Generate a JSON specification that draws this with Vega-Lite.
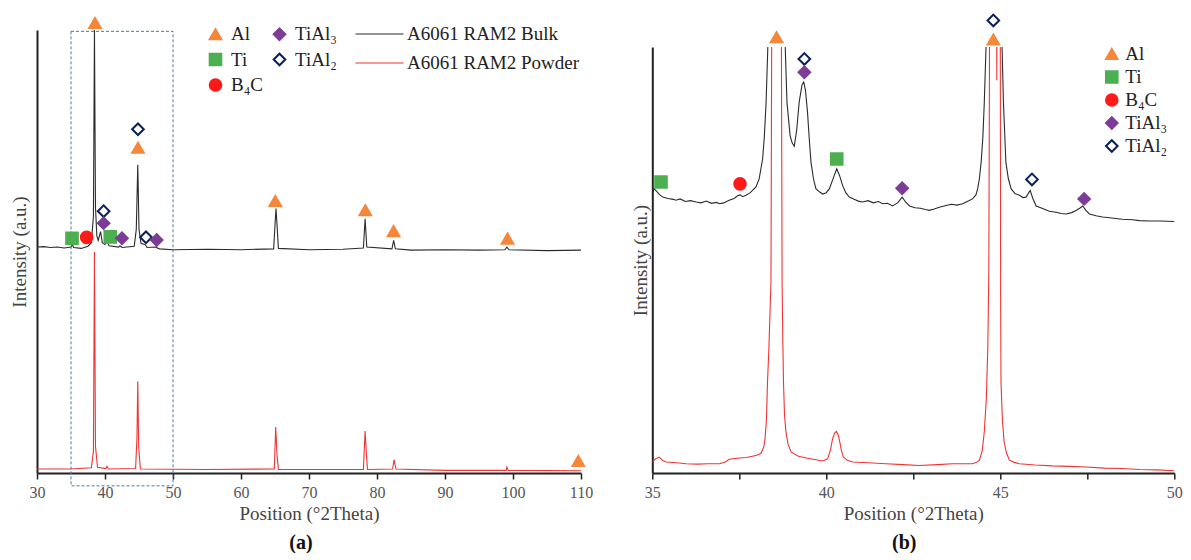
{
  "$schema": "https://vega.github.io/schema/vega-lite/v6.json",
  "padding": {"top": 10, "left": 10, "right": 0, "bottom": 0},
  "background": "white",
  "spacing": 71.3,
  "bounds": "flush",
  "datasets": {
    "linesA": [
      {"x": 30, "y": 51.0, "s": "A6061 RAM2 Bulk"}, {"x": 31, "y": 51.1, "s": "A6061 RAM2 Bulk"}, {"x": 32, "y": 50.9, "s": "A6061 RAM2 Bulk"}, {"x": 33, "y": 51.0, "s": "A6061 RAM2 Bulk"}, {"x": 34, "y": 50.8, "s": "A6061 RAM2 Bulk"}, {"x": 35, "y": 51.0, "s": "A6061 RAM2 Bulk"}, {"x": 35.2, "y": 51.6, "s": "A6061 RAM2 Bulk"}, {"x": 35.4, "y": 50.9, "s": "A6061 RAM2 Bulk"}, {"x": 36.5, "y": 50.7, "s": "A6061 RAM2 Bulk"}, {"x": 37.5, "y": 51.2, "s": "A6061 RAM2 Bulk"}, {"x": 38.0, "y": 52.0, "s": "A6061 RAM2 Bulk"}, {"x": 38.3, "y": 58, "s": "A6061 RAM2 Bulk"}, {"x": 38.45, "y": 100, "s": "A6061 RAM2 Bulk"}, {"x": 38.6, "y": 60, "s": "A6061 RAM2 Bulk"}, {"x": 38.8, "y": 53.5, "s": "A6061 RAM2 Bulk"}, {"x": 39.0, "y": 52.5, "s": "A6061 RAM2 Bulk"}, {"x": 39.35, "y": 54.5, "s": "A6061 RAM2 Bulk"}, {"x": 39.6, "y": 52.0, "s": "A6061 RAM2 Bulk"}, {"x": 40.0, "y": 51.6, "s": "A6061 RAM2 Bulk"}, {"x": 40.3, "y": 52.3, "s": "A6061 RAM2 Bulk"}, {"x": 40.6, "y": 51.3, "s": "A6061 RAM2 Bulk"}, {"x": 42.0, "y": 51.0, "s": "A6061 RAM2 Bulk"}, {"x": 42.2, "y": 51.3, "s": "A6061 RAM2 Bulk"}, {"x": 42.5, "y": 50.9, "s": "A6061 RAM2 Bulk"}, {"x": 44.3, "y": 51.2, "s": "A6061 RAM2 Bulk"}, {"x": 44.6, "y": 55, "s": "A6061 RAM2 Bulk"}, {"x": 44.82, "y": 69.6, "s": "A6061 RAM2 Bulk"}, {"x": 45.0, "y": 55, "s": "A6061 RAM2 Bulk"}, {"x": 45.3, "y": 51.8, "s": "A6061 RAM2 Bulk"}, {"x": 45.9, "y": 51.6, "s": "A6061 RAM2 Bulk"}, {"x": 46.2, "y": 50.9, "s": "A6061 RAM2 Bulk"}, {"x": 47.4, "y": 51.0, "s": "A6061 RAM2 Bulk"}, {"x": 48, "y": 50.6, "s": "A6061 RAM2 Bulk"}, {"x": 50, "y": 50.4, "s": "A6061 RAM2 Bulk"}, {"x": 55, "y": 50.5, "s": "A6061 RAM2 Bulk"}, {"x": 60, "y": 50.4, "s": "A6061 RAM2 Bulk"}, {"x": 64.8, "y": 50.6, "s": "A6061 RAM2 Bulk"}, {"x": 65.0, "y": 56, "s": "A6061 RAM2 Bulk"}, {"x": 65.15, "y": 59.7, "s": "A6061 RAM2 Bulk"}, {"x": 65.3, "y": 56, "s": "A6061 RAM2 Bulk"}, {"x": 65.5, "y": 50.7, "s": "A6061 RAM2 Bulk"}, {"x": 70, "y": 50.4, "s": "A6061 RAM2 Bulk"}, {"x": 75, "y": 50.5, "s": "A6061 RAM2 Bulk"}, {"x": 78.0, "y": 50.8, "s": "A6061 RAM2 Bulk"}, {"x": 78.25, "y": 57.4, "s": "A6061 RAM2 Bulk"}, {"x": 78.5, "y": 51.0, "s": "A6061 RAM2 Bulk"}, {"x": 82.2, "y": 50.6, "s": "A6061 RAM2 Bulk"}, {"x": 82.45, "y": 52.5, "s": "A6061 RAM2 Bulk"}, {"x": 82.7, "y": 50.6, "s": "A6061 RAM2 Bulk"}, {"x": 85, "y": 50.3, "s": "A6061 RAM2 Bulk"}, {"x": 90, "y": 50.4, "s": "A6061 RAM2 Bulk"}, {"x": 95, "y": 50.3, "s": "A6061 RAM2 Bulk"}, {"x": 98.8, "y": 50.4, "s": "A6061 RAM2 Bulk"}, {"x": 99.1, "y": 51.0, "s": "A6061 RAM2 Bulk"}, {"x": 99.4, "y": 50.4, "s": "A6061 RAM2 Bulk"}, {"x": 105, "y": 50.2, "s": "A6061 RAM2 Bulk"}, {"x": 110, "y": 50.3, "s": "A6061 RAM2 Bulk"},
      {"x": 30, "y": 0.9, "s": "A6061 RAM2 Powder"}, {"x": 35, "y": 0.9, "s": "A6061 RAM2 Powder"}, {"x": 38.0, "y": 1.2, "s": "A6061 RAM2 Powder"}, {"x": 38.3, "y": 5, "s": "A6061 RAM2 Powder"}, {"x": 38.45, "y": 49.9, "s": "A6061 RAM2 Powder"}, {"x": 38.6, "y": 6, "s": "A6061 RAM2 Powder"}, {"x": 38.9, "y": 1.3, "s": "A6061 RAM2 Powder"}, {"x": 40.1, "y": 1.0, "s": "A6061 RAM2 Powder"}, {"x": 40.3, "y": 1.5, "s": "A6061 RAM2 Powder"}, {"x": 40.5, "y": 0.9, "s": "A6061 RAM2 Powder"}, {"x": 44.5, "y": 1.0, "s": "A6061 RAM2 Powder"}, {"x": 44.7, "y": 8, "s": "A6061 RAM2 Powder"}, {"x": 44.82, "y": 20.7, "s": "A6061 RAM2 Powder"}, {"x": 44.95, "y": 6, "s": "A6061 RAM2 Powder"}, {"x": 45.2, "y": 0.9, "s": "A6061 RAM2 Powder"}, {"x": 55, "y": 0.8, "s": "A6061 RAM2 Powder"}, {"x": 64.9, "y": 0.9, "s": "A6061 RAM2 Powder"}, {"x": 65.1, "y": 10.4, "s": "A6061 RAM2 Powder"}, {"x": 65.3, "y": 4, "s": "A6061 RAM2 Powder"}, {"x": 65.5, "y": 0.8, "s": "A6061 RAM2 Powder"}, {"x": 78.0, "y": 0.8, "s": "A6061 RAM2 Powder"}, {"x": 78.25, "y": 9.5, "s": "A6061 RAM2 Powder"}, {"x": 78.45, "y": 4, "s": "A6061 RAM2 Powder"}, {"x": 78.6, "y": 0.8, "s": "A6061 RAM2 Powder"}, {"x": 82.3, "y": 0.9, "s": "A6061 RAM2 Powder"}, {"x": 82.5, "y": 3.0, "s": "A6061 RAM2 Powder"}, {"x": 82.8, "y": 0.9, "s": "A6061 RAM2 Powder"}, {"x": 90, "y": 0.6, "s": "A6061 RAM2 Powder"}, {"x": 99.0, "y": 0.6, "s": "A6061 RAM2 Powder"}, {"x": 99.1, "y": 1.35, "s": "A6061 RAM2 Powder"}, {"x": 99.3, "y": 0.6, "s": "A6061 RAM2 Powder"}, {"x": 110, "y": 0.5, "s": "A6061 RAM2 Powder"}
    ],
    "peaksA": [
      {"x": 38.53, "y": 101.6, "phase": "Al"}, {"x": 44.85, "y": 77.6, "phase": "TiAl₂"}, {"x": 44.85, "y": 73.4, "phase": "Al"}, {"x": 65.04, "y": 61.4, "phase": "Al"}, {"x": 78.28, "y": 59.3, "phase": "Al"}, {"x": 82.44, "y": 54.6, "phase": "Al"}, {"x": 99.2, "y": 52.9, "phase": "Al"}, {"x": 35.15, "y": 53.0, "phase": "Ti"}, {"x": 37.3, "y": 53.2, "phase": "B₄C"}, {"x": 39.8, "y": 59.1, "phase": "TiAl₂"}, {"x": 39.8, "y": 56.4, "phase": "TiAl₃"}, {"x": 40.78, "y": 53.3, "phase": "Ti"}, {"x": 42.5, "y": 53.0, "phase": "TiAl₃"}, {"x": 46.03, "y": 53.2, "phase": "TiAl₂"}, {"x": 47.6, "y": 52.6, "phase": "TiAl₃"}, {"x": 109.6, "y": 2.7, "phase": "Al"}
    ],
    "linesB": [
      {"x": 35.0, "y": 63.0, "s": "Bulk"}, {"x": 35.05, "y": 64.2, "s": "Bulk"}, {"x": 35.1, "y": 63.8, "s": "Bulk"}, {"x": 35.2, "y": 62.9, "s": "Bulk"}, {"x": 35.3, "y": 62.3, "s": "Bulk"}, {"x": 35.45, "y": 62.0, "s": "Bulk"}, {"x": 35.6, "y": 61.8, "s": "Bulk"}, {"x": 35.68, "y": 61.6, "s": "Bulk"}, {"x": 35.8, "y": 61.9, "s": "Bulk"}, {"x": 35.95, "y": 61.3, "s": "Bulk"}, {"x": 36.1, "y": 61.5, "s": "Bulk"}, {"x": 36.26, "y": 61.2, "s": "Bulk"}, {"x": 36.4, "y": 61.0, "s": "Bulk"}, {"x": 36.55, "y": 61.4, "s": "Bulk"}, {"x": 36.7, "y": 60.9, "s": "Bulk"}, {"x": 36.85, "y": 61.1, "s": "Bulk"}, {"x": 36.93, "y": 60.8, "s": "Bulk"}, {"x": 37.05, "y": 61.0, "s": "Bulk"}, {"x": 37.21, "y": 61.6, "s": "Bulk"}, {"x": 37.35, "y": 62.0, "s": "Bulk"}, {"x": 37.45, "y": 62.6, "s": "Bulk"}, {"x": 37.52, "y": 62.8, "s": "Bulk"}, {"x": 37.6, "y": 62.4, "s": "Bulk"}, {"x": 37.69, "y": 62.7, "s": "Bulk"}, {"x": 37.8, "y": 63.2, "s": "Bulk"}, {"x": 37.88, "y": 63.8, "s": "Bulk"}, {"x": 37.98, "y": 64.6, "s": "Bulk"}, {"x": 38.07, "y": 66.4, "s": "Bulk"}, {"x": 38.17, "y": 70.9, "s": "Bulk"}, {"x": 38.22, "y": 76, "s": "Bulk"}, {"x": 38.27, "y": 83.7, "s": "Bulk"}, {"x": 38.32, "y": 96.2, "s": "Bulk"}, {"x": 38.55, "y": 400, "s": "Bulk"}, {"x": 38.82, "y": 96.2, "s": "Bulk"}, {"x": 38.87, "y": 83.7, "s": "Bulk"}, {"x": 38.96, "y": 76.2, "s": "Bulk"}, {"x": 39.02, "y": 74.5, "s": "Bulk"}, {"x": 39.08, "y": 73.8, "s": "Bulk"}, {"x": 39.15, "y": 77.5, "s": "Bulk"}, {"x": 39.22, "y": 83.7, "s": "Bulk"}, {"x": 39.3, "y": 87.6, "s": "Bulk"}, {"x": 39.35, "y": 88.3, "s": "Bulk"}, {"x": 39.4, "y": 86.5, "s": "Bulk"}, {"x": 39.46, "y": 81.5, "s": "Bulk"}, {"x": 39.51, "y": 75.5, "s": "Bulk"}, {"x": 39.56, "y": 70.2, "s": "Bulk"}, {"x": 39.63, "y": 66.5, "s": "Bulk"}, {"x": 39.7, "y": 64.2, "s": "Bulk"}, {"x": 39.8, "y": 63.5, "s": "Bulk"}, {"x": 39.9, "y": 63.0, "s": "Bulk"}, {"x": 40.0, "y": 63.3, "s": "Bulk"}, {"x": 40.09, "y": 64.2, "s": "Bulk"}, {"x": 40.2, "y": 66.6, "s": "Bulk"}, {"x": 40.3, "y": 68.7, "s": "Bulk"}, {"x": 40.38, "y": 67.2, "s": "Bulk"}, {"x": 40.47, "y": 64.9, "s": "Bulk"}, {"x": 40.56, "y": 63.3, "s": "Bulk"}, {"x": 40.66, "y": 62.3, "s": "Bulk"}, {"x": 40.8, "y": 61.8, "s": "Bulk"}, {"x": 40.92, "y": 61.4, "s": "Bulk"}, {"x": 41.04, "y": 61.2, "s": "Bulk"}, {"x": 41.2, "y": 61.5, "s": "Bulk"}, {"x": 41.35, "y": 61.0, "s": "Bulk"}, {"x": 41.5, "y": 61.3, "s": "Bulk"}, {"x": 41.62, "y": 60.8, "s": "Bulk"}, {"x": 41.76, "y": 60.9, "s": "Bulk"}, {"x": 41.9, "y": 60.3, "s": "Bulk"}, {"x": 42.05, "y": 61.0, "s": "Bulk"}, {"x": 42.18, "y": 62.3, "s": "Bulk"}, {"x": 42.28, "y": 61.2, "s": "Bulk"}, {"x": 42.39, "y": 60.3, "s": "Bulk"}, {"x": 42.55, "y": 59.9, "s": "Bulk"}, {"x": 42.7, "y": 59.8, "s": "Bulk"}, {"x": 42.85, "y": 59.5, "s": "Bulk"}, {"x": 42.96, "y": 59.3, "s": "Bulk"}, {"x": 43.1, "y": 59.6, "s": "Bulk"}, {"x": 43.25, "y": 60.0, "s": "Bulk"}, {"x": 43.44, "y": 60.4, "s": "Bulk"}, {"x": 43.6, "y": 60.7, "s": "Bulk"}, {"x": 43.75, "y": 60.5, "s": "Bulk"}, {"x": 43.92, "y": 60.8, "s": "Bulk"}, {"x": 44.05, "y": 61.3, "s": "Bulk"}, {"x": 44.2, "y": 61.9, "s": "Bulk"}, {"x": 44.3, "y": 62.8, "s": "Bulk"}, {"x": 44.35, "y": 64.2, "s": "Bulk"}, {"x": 44.4, "y": 66.5, "s": "Bulk"}, {"x": 44.45, "y": 70.2, "s": "Bulk"}, {"x": 44.5, "y": 76, "s": "Bulk"}, {"x": 44.54, "y": 83.7, "s": "Bulk"}, {"x": 44.59, "y": 96.2, "s": "Bulk"}, {"x": 44.82, "y": 400, "s": "Bulk"}, {"x": 45.05, "y": 96.2, "s": "Bulk"}, {"x": 45.09, "y": 83.7, "s": "Bulk"}, {"x": 45.13, "y": 76, "s": "Bulk"}, {"x": 45.16, "y": 70.2, "s": "Bulk"}, {"x": 45.23, "y": 66.5, "s": "Bulk"}, {"x": 45.31, "y": 64.2, "s": "Bulk"}, {"x": 45.42, "y": 63.1, "s": "Bulk"}, {"x": 45.55, "y": 62.7, "s": "Bulk"}, {"x": 45.65, "y": 62.2, "s": "Bulk"}, {"x": 45.74, "y": 62.3, "s": "Bulk"}, {"x": 45.81, "y": 63.2, "s": "Bulk"}, {"x": 45.86, "y": 63.8, "s": "Bulk"}, {"x": 45.93, "y": 62.1, "s": "Bulk"}, {"x": 46.03, "y": 60.3, "s": "Bulk"}, {"x": 46.2, "y": 59.8, "s": "Bulk"}, {"x": 46.41, "y": 59.1, "s": "Bulk"}, {"x": 46.6, "y": 58.9, "s": "Bulk"}, {"x": 46.75, "y": 58.6, "s": "Bulk"}, {"x": 46.89, "y": 58.5, "s": "Bulk"}, {"x": 47.05, "y": 58.8, "s": "Bulk"}, {"x": 47.18, "y": 59.3, "s": "Bulk"}, {"x": 47.28, "y": 59.8, "s": "Bulk"}, {"x": 47.37, "y": 60.3, "s": "Bulk"}, {"x": 47.46, "y": 59.3, "s": "Bulk"}, {"x": 47.56, "y": 58.5, "s": "Bulk"}, {"x": 47.75, "y": 58.1, "s": "Bulk"}, {"x": 47.94, "y": 57.8, "s": "Bulk"}, {"x": 48.2, "y": 57.6, "s": "Bulk"}, {"x": 48.5, "y": 57.3, "s": "Bulk"}, {"x": 48.8, "y": 57.2, "s": "Bulk"}, {"x": 49.0, "y": 57.0, "s": "Bulk"}, {"x": 49.3, "y": 56.9, "s": "Bulk"}, {"x": 49.6, "y": 56.9, "s": "Bulk"}, {"x": 50.0, "y": 56.8, "s": "Bulk"},
      {"x": 35.0, "y": 2.5, "s": "Powder"}, {"x": 35.1, "y": 3.2, "s": "Powder"}, {"x": 35.2, "y": 3.6, "s": "Powder"}, {"x": 35.3, "y": 2.8, "s": "Powder"}, {"x": 35.4, "y": 2.5, "s": "Powder"}, {"x": 35.7, "y": 2.3, "s": "Powder"}, {"x": 35.97, "y": 2.1, "s": "Powder"}, {"x": 36.3, "y": 2.0, "s": "Powder"}, {"x": 36.6, "y": 2.1, "s": "Powder"}, {"x": 36.93, "y": 2.1, "s": "Powder"}, {"x": 37.1, "y": 2.5, "s": "Powder"}, {"x": 37.21, "y": 3.1, "s": "Powder"}, {"x": 37.5, "y": 3.4, "s": "Powder"}, {"x": 37.7, "y": 3.5, "s": "Powder"}, {"x": 37.88, "y": 3.8, "s": "Powder"}, {"x": 38.0, "y": 4.0, "s": "Powder"}, {"x": 38.12, "y": 4.4, "s": "Powder"}, {"x": 38.2, "y": 5.8, "s": "Powder"}, {"x": 38.24, "y": 7.7, "s": "Powder"}, {"x": 38.28, "y": 12, "s": "Powder"}, {"x": 38.31, "y": 20.5, "s": "Powder"}, {"x": 38.35, "y": 28, "s": "Powder"}, {"x": 38.38, "y": 35.6, "s": "Powder"}, {"x": 38.41, "y": 43.1, "s": "Powder"}, {"x": 38.43, "y": 96.2, "s": "Powder"}, {"x": 38.57, "y": 400, "s": "Powder"}, {"x": 38.71, "y": 96.2, "s": "Powder"}, {"x": 38.73, "y": 43.1, "s": "Powder"}, {"x": 38.75, "y": 30, "s": "Powder"}, {"x": 38.77, "y": 20.5, "s": "Powder"}, {"x": 38.8, "y": 13, "s": "Powder"}, {"x": 38.84, "y": 9.3, "s": "Powder"}, {"x": 38.9, "y": 6.5, "s": "Powder"}, {"x": 38.99, "y": 4.7, "s": "Powder"}, {"x": 39.2, "y": 3.8, "s": "Powder"}, {"x": 39.42, "y": 3.4, "s": "Powder"}, {"x": 39.7, "y": 3.0, "s": "Powder"}, {"x": 39.9, "y": 2.7, "s": "Powder"}, {"x": 40.04, "y": 3.2, "s": "Powder"}, {"x": 40.12, "y": 5.2, "s": "Powder"}, {"x": 40.18, "y": 7.7, "s": "Powder"}, {"x": 40.24, "y": 9.0, "s": "Powder"}, {"x": 40.29, "y": 9.4, "s": "Powder"}, {"x": 40.33, "y": 8.8, "s": "Powder"}, {"x": 40.37, "y": 7.7, "s": "Powder"}, {"x": 40.43, "y": 5.3, "s": "Powder"}, {"x": 40.49, "y": 3.6, "s": "Powder"}, {"x": 40.6, "y": 2.9, "s": "Powder"}, {"x": 40.76, "y": 2.5, "s": "Powder"}, {"x": 41.2, "y": 2.3, "s": "Powder"}, {"x": 41.72, "y": 2.1, "s": "Powder"}, {"x": 42.2, "y": 1.9, "s": "Powder"}, {"x": 42.67, "y": 1.7, "s": "Powder"}, {"x": 43.2, "y": 1.9, "s": "Powder"}, {"x": 43.63, "y": 2.1, "s": "Powder"}, {"x": 44.0, "y": 2.1, "s": "Powder"}, {"x": 44.2, "y": 2.1, "s": "Powder"}, {"x": 44.32, "y": 2.4, "s": "Powder"}, {"x": 44.4, "y": 2.9, "s": "Powder"}, {"x": 44.48, "y": 5, "s": "Powder"}, {"x": 44.54, "y": 9.3, "s": "Powder"}, {"x": 44.6, "y": 17, "s": "Powder"}, {"x": 44.64, "y": 28.1, "s": "Powder"}, {"x": 44.67, "y": 45, "s": "Powder"}, {"x": 44.69, "y": 96.2, "s": "Powder"}, {"x": 44.78, "y": 400, "s": "Powder"}, {"x": 44.9, "y": 88.7, "s": "Powder"}, {"x": 44.96, "y": 400, "s": "Powder"}, {"x": 45.0, "y": 96.2, "s": "Powder"}, {"x": 45.01, "y": 40, "s": "Powder"}, {"x": 45.02, "y": 20.5, "s": "Powder"}, {"x": 45.06, "y": 12, "s": "Powder"}, {"x": 45.11, "y": 7.0, "s": "Powder"}, {"x": 45.18, "y": 4.5, "s": "Powder"}, {"x": 45.26, "y": 2.9, "s": "Powder"}, {"x": 45.4, "y": 2.4, "s": "Powder"}, {"x": 45.55, "y": 2.1, "s": "Powder"}, {"x": 46.0, "y": 1.8, "s": "Powder"}, {"x": 46.5, "y": 1.6, "s": "Powder"}, {"x": 47.0, "y": 1.5, "s": "Powder"}, {"x": 47.46, "y": 1.35, "s": "Powder"}, {"x": 48.0, "y": 1.1, "s": "Powder"}, {"x": 48.5, "y": 1.0, "s": "Powder"}, {"x": 49.0, "y": 0.8, "s": "Powder"}, {"x": 49.5, "y": 0.7, "s": "Powder"}, {"x": 50.0, "y": 0.5, "s": "Powder"}
    ],
    "peaksB": [
      {"x": 35.25, "y": 65.7, "phase": "Ti"}, {"x": 37.52, "y": 65.3, "phase": "B₄C"}, {"x": 38.57, "y": 98.4, "phase": "Al"}, {"x": 39.37, "y": 93.5, "phase": "TiAl₂"}, {"x": 39.37, "y": 90.5, "phase": "TiAl₃"}, {"x": 40.3, "y": 70.9, "phase": "Ti"}, {"x": 42.18, "y": 64.3, "phase": "TiAl₃"}, {"x": 44.8, "y": 102.2, "phase": "TiAl₂"}, {"x": 44.8, "y": 97.9, "phase": "Al"}, {"x": 45.91, "y": 66.3, "phase": "TiAl₂"}, {"x": 47.41, "y": 61.9, "phase": "TiAl₃"}
    ]
  },
  "resolve": {
    "scale": {"x": "independent", "y": "independent", "color": "independent", "fill": "independent", "stroke": "independent", "shape": "independent"},
    "legend": {"color": "independent", "fill": "independent", "stroke": "independent", "shape": "independent"}
  },
  "hconcat": [
    {
      "width": 544,
      "height": 443,
      "title": {"text": "(a)", "orient": "bottom", "anchor": "middle", "fontSize": 20, "fontWeight": "bold", "font": "Liberation Serif", "color": "#111", "offset": 10, "dx": -8},
      "layer": [
        {
          "data": {"name": "linesA"},
          "mark": {"type": "line", "strokeWidth": 1.1},
          "encoding": {
            "x": {"field": "x", "type": "quantitative", "scale": {"domain": [30, 110], "nice": false, "zero": false},
                  "axis": {"title": "Position (°2Theta)", "values": [30, 35, 40, 45, 50, 55, 60, 65, 70, 75, 80, 85, 90, 95, 100, 105, 110], "labelExpr": "datum.value % 10 === 0 ? datum.label : ''"}},
            "y": {"field": "y", "type": "quantitative", "scale": {"domain": [0, 100], "nice": false, "zero": false},
                  "axis": {"title": "Intensity (a.u.)", "ticks": false, "labels": false, "titlePadding": 8}},
            "color": {"field": "s", "type": "nominal",
                      "scale": {"domain": ["A6061 RAM2 Bulk", "A6061 RAM2 Powder"], "range": ["#2b2b2b", "#f03434"]},
                      "legend": {"orient": "none", "legendX": 333, "legendY": -5.5, "title": null, "symbolType": "M-4,0H4", "symbolSize": 144, "symbolStrokeWidth": 1.2, "labelOffset": 18, "rowPadding": 9, "labelLimit": 400}}
          }
        },
        {
          "data": {"values": [{}]},
          "mark": {"type": "rect", "fill": null, "stroke": "#4a78a8", "strokeWidth": 1, "strokeDash": [3, 2], "clip": false},
          "encoding": {
            "x": {"datum": 35}, "x2": {"datum": 50},
            "y": {"datum": -2.9}, "y2": {"datum": 99.7}
          }
        },
        {
          "data": {"name": "peaksA"},
          "mark": {"type": "point", "filled": true, "size": 135, "strokeWidth": 2, "opacity": 1, "clip": false},
          "encoding": {
            "x": {"field": "x", "type": "quantitative"},
            "y": {"field": "y", "type": "quantitative"},
            "fill": {"field": "phase", "type": "nominal",
                     "scale": {"domain": ["Al", "Ti", "B₄C", "TiAl₃", "TiAl₂"], "range": ["#f5873a", "#4caf50", "#ff1a1a", "#7d3c98", "#ffffff"]},
                     "legend": {"orient": "none", "legendX": 169, "legendY": -5.5, "columns": 2, "title": null, "symbolSize": 135, "symbolStrokeWidth": 2, "labelOffset": 6, "rowPadding": 4.5, "columnPadding": 6}},
            "stroke": {"field": "phase", "type": "nominal",
                       "scale": {"domain": ["Al", "Ti", "B₄C", "TiAl₃", "TiAl₂"], "range": ["#f5873a", "#4caf50", "#ff1a1a", "#7d3c98", "#0b1f5a"]},
                       "legend": {"orient": "none", "legendX": 169, "legendY": -5.5, "columns": 2, "title": null, "symbolSize": 135, "symbolStrokeWidth": 2, "labelOffset": 6, "rowPadding": 4.5, "columnPadding": 6}},
            "shape": {"field": "phase", "type": "nominal",
                      "scale": {"domain": ["Al", "Ti", "B₄C", "TiAl₃", "TiAl₂"], "range": ["triangle-up", "square", "circle", "diamond", "diamond"]},
                      "legend": {"orient": "none", "legendX": 169, "legendY": -5.5, "columns": 2, "title": null, "symbolSize": 135, "symbolStrokeWidth": 2, "labelOffset": 6, "rowPadding": 4.5, "columnPadding": 6}}
          }
        }
      ]
    },
    {
      "spacing": 16,
      "bounds": "flush",
      "vconcat": [
        {
          "width": 522,
          "height": 1,
          "data": {"values": [{"t": ""}]},
          "mark": {"type": "text"},
          "encoding": {"text": {"field": "t"}}
        },
        {
          "width": 522,
          "height": 426,
          "title": {"text": "(b)", "orient": "bottom", "anchor": "middle", "fontSize": 20, "fontWeight": "bold", "font": "Liberation Serif", "color": "#111", "offset": 10, "dx": -9},
          "layer": [
            {
              "data": {"name": "linesB"},
              "mark": {"type": "line", "strokeWidth": 1.1, "clip": true},
              "encoding": {
                "x": {"field": "x", "type": "quantitative", "scale": {"domain": [35, 50], "nice": false, "zero": false},
                      "axis": {"title": "Position (°2Theta)", "values": [35, 37.5, 40, 42.5, 45, 47.5, 50], "labelExpr": "datum.value % 5 === 0 ? datum.label : ''"}},
                "y": {"field": "y", "type": "quantitative", "scale": {"domain": [0, 96.2], "nice": false, "zero": false},
                      "axis": {"title": "Intensity (a.u.)", "ticks": false, "labels": false, "titlePadding": 2}},
                "color": {"field": "s", "type": "nominal", "scale": {"domain": ["Bulk", "Powder"], "range": ["#2b2b2b", "#f03434"]}, "legend": null}
              }
            },
            {
              "data": {"name": "peaksB"},
              "mark": {"type": "point", "filled": true, "size": 135, "strokeWidth": 2, "opacity": 1, "clip": false},
              "encoding": {
                "x": {"field": "x", "type": "quantitative"},
                "y": {"field": "y", "type": "quantitative"},
                "fill": {"field": "phase", "type": "nominal",
                         "scale": {"domain": ["Al", "Ti", "B₄C", "TiAl₃", "TiAl₂"], "range": ["#f5873a", "#4caf50", "#ff1a1a", "#7d3c98", "#ffffff"]},
                         "legend": {"orient": "none", "legendX": 450, "legendY": 14.5, "title": null, "symbolSize": 135, "symbolStrokeWidth": 2, "labelOffset": 4, "rowPadding": 2}},
                "stroke": {"field": "phase", "type": "nominal",
                           "scale": {"domain": ["Al", "Ti", "B₄C", "TiAl₃", "TiAl₂"], "range": ["#f5873a", "#4caf50", "#ff1a1a", "#7d3c98", "#0b1f5a"]},
                           "legend": {"orient": "none", "legendX": 450, "legendY": 14.5, "title": null, "symbolSize": 135, "symbolStrokeWidth": 2, "labelOffset": 4, "rowPadding": 2}},
                "shape": {"field": "phase", "type": "nominal",
                          "scale": {"domain": ["Al", "Ti", "B₄C", "TiAl₃", "TiAl₂"], "range": ["triangle-up", "square", "circle", "diamond", "diamond"]},
                          "legend": {"orient": "none", "legendX": 450, "legendY": 14.5, "title": null, "symbolSize": 135, "symbolStrokeWidth": 2, "labelOffset": 4, "rowPadding": 2}}
              }
            }
          ]
        }
      ]
    }
  ],
  "config": {
    "view": {"stroke": null},
    "font": "Liberation Serif",
    "axis": {
      "grid": false,
      "domainColor": "#222",
      "domainWidth": 2,
      "tickColor": "#222",
      "tickWidth": 1.5,
      "tickSize": 6,
      "labelFont": "Liberation Serif",
      "labelFontSize": 16,
      "labelColor": "#555",
      "labelPadding": 5,
      "labelFlush": false,
      "labelOverlap": false,
      "titleFont": "Liberation Serif",
      "titleFontSize": 19,
      "titleFontWeight": "normal",
      "titleColor": "#444",
      "titlePadding": 4
    },
    "legend": {
      "labelFont": "Liberation Serif",
      "labelFontSize": 19,
      "labelColor": "#222",
      "labelLimit": 400,
      "padding": 0
    }
  }
}
